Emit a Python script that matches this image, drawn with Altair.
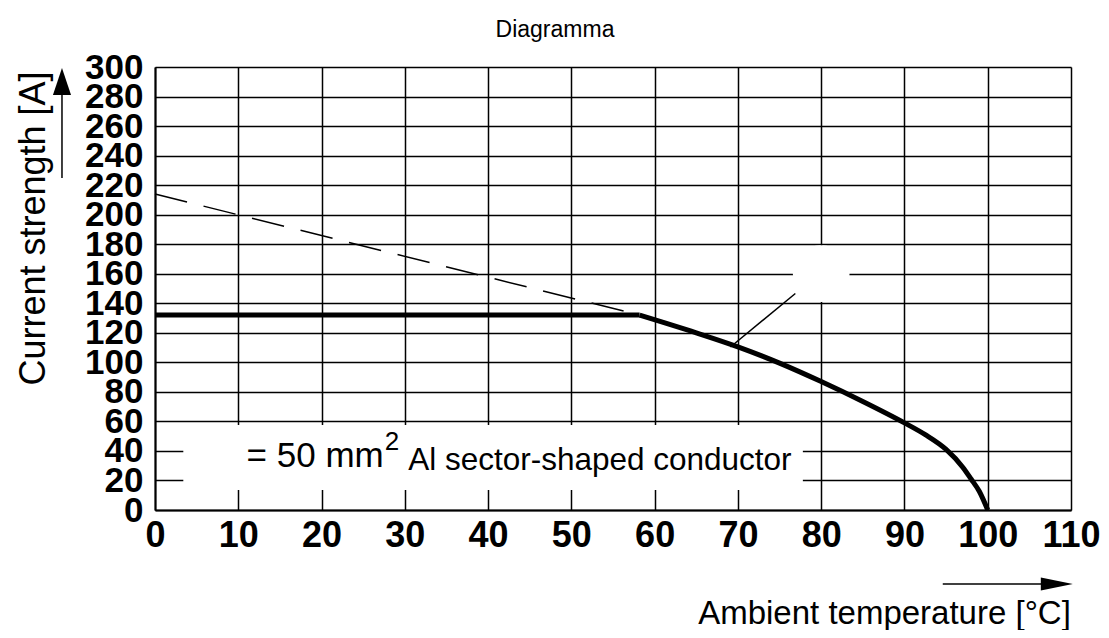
import altair as alt
import pandas as pd

# ---- data ----
flat_temp = [0, 58.2]
flat_current = [132, 132]
curve_temp = [58.2, 65, 70, 75, 80, 85, 90, 92.5, 95, 97, 98, 99, 100]
curve_current = [132, 120, 110.5, 99.5, 87, 73.5, 59, 51, 41, 29, 21, 12.5, 0]

dash_temp = [0, 58.2]
dash_current = [214, 132]

x_ticks = list(range(0, 111, 10))
y_ticks = list(range(0, 301, 20))

# annotation geometry (data coordinates)
pointer_temp = [69.1, 76.9]
pointer_current = [110.4, 146.6]
blob_temp = [80]
blob_current = [160]
box_x = [3.4, 77.8]
box_y = [13.5, 57.6]
yarrow_x = [-11.17, -11.17]
yarrow_y = [224.8, 281.0]
yhead = (-11.17, 290.2)
xarrow_x = [94.6, 106.4]
xarrow_y = [-50.1, -50.1]
xhead = (108.3, -50.1)

label_texts = ["= 50 mm", "2", "Al sector-shaped conductor"]
label_temp = [11.0, 27.6, 30.4]
label_current = [29.1, 40.6, 27.1]
label_sizes = [35, 26, 31.5]

FONT = "Liberation Sans"

xs = alt.Scale(domain=[0, 110], nice=False)
ys = alt.Scale(domain=[0, 300], nice=False)

xaxis = alt.Axis(values=x_ticks, tickCount=30, title="Ambient temperature [°C]", grid=True,
                 gridColor="black", gridWidth=1.5, gridOpacity=1,
                 domainColor="black", domainWidth=2, ticks=False,
                 labelFont=FONT, labelFontSize=36, labelFontWeight="bold",
                 labelColor="black", labelPadding=8, labelFlush=False,
                 labelOverlap=False, titleFont=FONT, titleFontSize=33,
                 titleFontWeight="normal", titleColor="black",
                 titleX=729, titleY=103, titleAlign="center", titleBaseline="middle")
yaxis = alt.Axis(values=y_ticks, tickCount=30, title="Current strength [A]", grid=True,
                 gridColor="black", gridWidth=1.5, gridOpacity=1,
                 domainColor="black", domainWidth=2, ticks=False,
                 labelFont=FONT, labelFontSize=35, labelFontWeight="bold",
                 labelColor="black", labelPadding=12, labelFlush=False,
                 labelOverlap=False, labelBaseline="middle",
                 titleFont=FONT, titleFontSize=36, titleFontWeight="normal",
                 titleColor="black", titleAngle=-90, titleX=-122, titleY=161,
                 titleAlign="center", titleBaseline="middle")


def X(field):
    return alt.X(field, scale=xs)


def Y(field):
    return alt.Y(field, scale=ys)


flat_df = pd.DataFrame({"t": flat_temp, "i": flat_current})
curve_df = pd.DataFrame({"t": curve_temp, "i": curve_current})
dash_df = pd.DataFrame({"t": dash_temp, "i": dash_current})
pointer_df = pd.DataFrame({"t": pointer_temp, "i": pointer_current})
blob_df = pd.DataFrame({"t": blob_temp, "i": blob_current})
box_df = pd.DataFrame({"x1": [box_x[0]], "x2": [box_x[1]], "y1": [box_y[0]], "y2": [box_y[1]]})
yarrow_df = pd.DataFrame({"t": yarrow_x, "i": yarrow_y})
xarrow_df = pd.DataFrame({"t": xarrow_x, "i": xarrow_y})
yhead_df = pd.DataFrame({"t": [yhead[0]], "i": [yhead[1]]})
xhead_df = pd.DataFrame({"t": [xhead[0]], "i": [xhead[1]]})
label_df = pd.DataFrame({"t": label_temp, "i": label_current,
                         "txt": label_texts, "size": label_sizes})

base_axes = alt.Chart(flat_df).mark_line(opacity=0).encode(
    x=alt.X("t:Q", scale=xs, axis=xaxis),
    y=alt.Y("i:Q", scale=ys, axis=yaxis),
)

box = alt.Chart(box_df).mark_rect(color="white").encode(
    x=X("x1:Q"), x2="x2:Q", y=Y("y1:Q"), y2="y2:Q")

blob = alt.Chart(blob_df).mark_point(shape="circle", filled=True, color="white",
                                     opacity=1, size=3217).encode(
    x=X("t:Q"), y=Y("i:Q"))

dash = alt.Chart(dash_df).mark_line(color="black", strokeWidth=1.5,
                                    strokeDash=[33, 17]).encode(
    x=X("t:Q"), y=Y("i:Q"))

flat = alt.Chart(flat_df).mark_line(color="black", strokeWidth=5).encode(
    x=X("t:Q"), y=Y("i:Q"))

curve = alt.Chart(curve_df).mark_line(color="black", strokeWidth=5,
                                      interpolate="monotone").encode(
    x=X("t:Q"), y=Y("i:Q"))

pointer = alt.Chart(pointer_df).mark_line(color="black", strokeWidth=1.5).encode(
    x=X("t:Q"), y=Y("i:Q"))

labels = alt.Chart(label_df).mark_text(font=FONT, color="black", align="left",
                                       baseline="alphabetic").encode(
    x=X("t:Q"), y=Y("i:Q"),
    text="txt:N", size=alt.Size("size:Q", scale=None, legend=None))

yarrow = alt.Chart(yarrow_df).mark_line(color="black", strokeWidth=1.5, clip=False).encode(
    x=X("t:Q"), y=Y("i:Q"))
xarrow = alt.Chart(xarrow_df).mark_line(color="black", strokeWidth=1.5, clip=False).encode(
    x=X("t:Q"), y=Y("i:Q"))
yhead_m = alt.Chart(yhead_df).mark_point(shape="M0,-1L-0.67,1L0.67,1Z", filled=True,
                                         color="black", opacity=1, size=729, clip=False).encode(
    x=X("t:Q"), y=Y("i:Q"))
xhead_m = alt.Chart(xhead_df).mark_point(shape="M1,0L-1,-0.4L-1,0.4Z", filled=True,
                                         color="black", opacity=1, size=1024, clip=False).encode(
    x=X("t:Q"), y=Y("i:Q"))

chart = alt.layer(base_axes, box, blob, dash, flat, curve, pointer, labels,
                  yarrow, xarrow, yhead_m, xhead_m).properties(
    width=916, height=443,
    title=alt.TitleParams("Diagramma", font=FONT, fontSize=23, fontWeight="normal",
                          color="black", anchor="middle", offset=8, dx=-58),
    autosize=alt.AutoSizeParams(type="none"),
    padding={"left": 147, "top": 59, "right": 30, "bottom": 120},
).configure_view(strokeWidth=0).configure(background="white")

chart.save("out.html", embed_options={"renderer": "svg", "actions": False})
